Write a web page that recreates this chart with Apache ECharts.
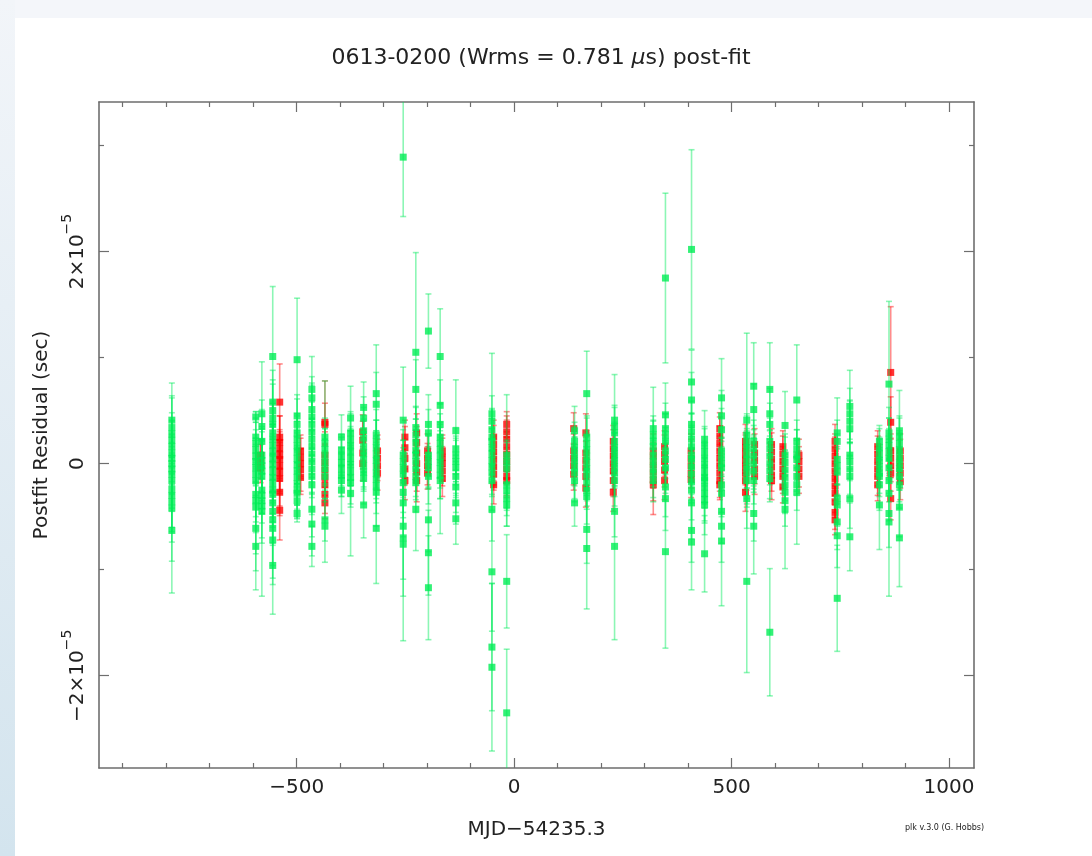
<!DOCTYPE html>
<html><head><meta charset="utf-8">
<script src="https://cdn.jsdelivr.net/npm/echarts@6/dist/echarts.min.js"></script>
<style>html,body{margin:0;padding:0;background:#fff}#c{width:1092px;height:856px}</style>
</head><body><div id="c"></div>
<script>
// Residuals in microseconds, grouped by observing epoch (MJD-54235.3)
const greenEpochs = [-787,-594,-580,-555,-499,-465,-435,-397,-376,-346,-317,-255,-226,-197,-170,-134,-51,-17,139,167,231,320,348,408,438,477,535,551,588,623,650,743,772,840,862,886];
const greenRes = [
 [4.1,3.4,2.8,2.2,1.6,1.0,0.5,0.0,-0.5,-1.0,-1.6,-2.4,-3.0,-3.6,-4.2,-6.3],
 [4.4,2.5,1.9,1.3,0.7,0.2,-0.4,-1.0,-1.6,-2.9,-3.5,-4.1,-6.1,-7.8],
 [4.7,3.5,2.1,0.8,0.3,-0.2,-0.7,-1.2,-2.5,-3.0,-3.5,-4.0,-4.5],
 [10.1,5.8,5.0,4.3,3.7,2.9,2.3,1.7,1.1,0.5,-0.1,-0.7,-1.3,-1.9,-2.5,-2.9,-3.7,-4.5,-5.3,-6.1,-7.2,-9.6],
 [9.8,4.5,3.7,2.9,2.3,1.7,1.1,0.5,-0.1,-0.7,-1.3,-1.9,-2.5,-2.8,-3.5,-4.7],
 [7.0,6.2,5.1,4.4,3.7,3.0,2.3,1.6,0.9,0.2,-0.5,-1.2,-2.0,-4.3,-5.7,-7.8],
 [2.5,1.9,1.3,0.7,0.1,-0.5,-1.2,-5.3,-5.9],
 [2.5,1.3,0.7,0.1,-0.5,-1.1,-1.6,-2.5],
 [4.3,2.9,2.3,1.7,1.1,0.5,-0.1,-0.7,-1.3,-1.8,-2.8],
 [5.3,4.3,3.1,2.4,1.6,1.0,0.4,-0.2,-0.8,-1.4,-3.9],
 [6.6,5.6,2.7,2.1,1.5,0.9,0.3,-0.3,-0.9,-1.5,-2.1,-2.7,-6.1],
 [28.9,4.1,0.8,0.2,-0.4,-1.0,-1.8,-2.7,-3.7,-5.9,-7.0,-7.6],
 [10.5,7.0,3.4,2.7,2.0,1.3,0.8,0.2,-0.5,-1.2,-1.8,-4.3],
 [12.5,3.7,2.9,0.8,0.2,-0.4,-1.2,-5.3,-8.4,-11.7],
 [10.1,5.5,3.7,2.5,1.9,1.3,0.7,0.1,-0.5,-1.1,-1.6],
 [3.1,1.4,0.8,0.2,-0.4,-1.2,-2.2,-3.7,-5.2],
 [4.7,4.0,3.2,2.5,2.1,1.5,0.9,0.3,-0.3,-0.9,-1.6,-4.3,-10.2,-17.3,-19.2],
 [0.8,0.2,-0.4,-2.0,-2.6,-3.3,-3.9,-11.1,-23.5],
 [3.1,2.1,1.5,0.9,0.3,-0.3,-0.9,-1.6,-3.7],
 [6.6,2.5,1.9,1.3,0.7,0.1,-0.5,-1.1,-1.8,-2.5,-3.1,-6.2,-8.0],
 [4.1,3.5,2.9,2.1,1.5,0.9,0.3,-0.3,-0.9,-1.6,-4.5,-7.8],
 [3.3,2.7,2.1,1.6,0.8,0.2,-0.4,-1.0,-1.6],
 [17.5,4.6,3.3,2.7,2.1,1.2,0.4,-0.4,-2.2,-3.3,-8.3],
 [20.2,7.7,6.0,3.7,3.0,2.3,1.6,0.8,0.4,-0.3,-1.0,-1.7,-2.5,-3.7,-6.3,-7.4],
 [2.3,1.7,1.1,0.5,-0.1,-0.7,-1.3,-1.6,-2.2,-2.8,-3.4,-3.9,-8.5],
 [6.2,4.5,3.2,1.2,0.6,0.0,-0.4,-2.0,-2.8,-4.5,-5.9,-7.3],
 [4.1,2.7,2.1,1.5,0.9,0.3,-0.3,-0.9,-1.6,-3.3,-11.1],
 [7.3,5.1,2.1,1.4,0.7,0.0,-0.7,-1.6,-4.7,-5.9],
 [7.0,4.7,3.7,2.1,1.4,0.7,0.0,-0.7,-1.4,-15.9],
 [3.6,0.8,0.1,-0.6,-1.3,-2.0,-2.7,-3.5,-4.3],
 [6.0,2.1,1.4,0.8,0.4,-0.4,-1.2,-2.0,-2.7],
 [2.9,2.1,0.4,-0.2,-0.8,-3.3,-3.9,-5.5,-6.8,-12.7],
 [5.4,4.7,4.0,3.3,0.8,0.2,-0.5,-1.2,-3.3,-6.9],
 [2.1,1.5,0.9,0.3,-0.3,-0.9,-1.2,-2.0,-3.9],
 [7.5,2.9,2.3,1.7,1.1,0.5,-0.4,-1.6,-2.8,-4.7,-5.5],
 [3.1,2.5,1.9,1.3,0.7,0.1,-0.5,-1.2,-2.0,-4.1,-7.0]
];
const greenErr = [
 [3.5,2.8,2.0,4.2,2.5,3.0,2.2,2.8,2.4,3.5,2.6,4.0,3.0,5.6,3.2,5.9],
 [0.5,2.4,2.0,3.0,2.5,2.2,2.8,2.0,3.4,2.6,3.0,4.4,4.0,4.1],
 [4.9,2.5,3.0,2.2,3.0,2.4,2.8,3.5,2.2,2.6,4.0,3.0,8.0],
 [6.6,3.0,2.5,3.6,2.2,2.8,3.4,2.0,2.6,3.2,2.4,3.0,2.2,2.8,3.5,2.6,4.0,3.0,5.5,3.5,4.2,4.6],
 [5.8,2.0,2.4,1.8,2.2,1.6,2.0,2.4,1.8,2.2,2.6,2.0,1.8,2.4,1.6,0.8],
 [3.1,2.0,2.5,3.0,2.2,2.8,2.0,2.6,2.2,3.0,2.4,2.0,2.8,2.6,3.0,1.9],
 [5.3,2.4,2.0,2.6,2.2,2.8,2.4,2.0,3.4],
 [2.1,1.5,1.8,1.4,1.6,2.0,1.5,2.2],
 [3.0,2.0,2.4,1.8,2.2,2.6,2.0,2.4,2.8,2.0,5.9],
 [2.4,2.0,2.2,1.8,2.4,2.0,2.6,2.2,1.8,2.4,3.1],
 [4.6,3.0,2.4,2.0,2.6,2.2,2.8,2.0,2.4,2.2,2.6,3.2,5.2],
 [5.6,5.0,2.4,2.0,2.6,2.2,2.8,2.4,3.2,5.0,5.5,9.1],
 [9.4,2.8,2.0,2.6,2.2,1.8,2.4,2.0,2.6,2.2,2.8,3.9],
 [3.5,2.8,2.2,2.0,2.4,2.0,2.6,3.0,4.0,4.9],
 [4.5,2.4,2.0,2.2,1.8,2.6,2.0,2.4,2.8,2.2,5.0],
 [4.8,2.0,1.8,2.2,2.6,2.0,2.4,2.0,2.4],
 [5.7,2.4,2.0,2.6,2.2,1.8,2.4,2.0,2.6,2.2,2.8,3.0,5.6,6.0,7.9],
 [5.7,2.0,2.4,2.2,1.8,2.6,2.0,4.4,6.0],
 [2.3,1.8,2.0,1.6,2.2,1.8,2.4,2.0,2.2],
 [4.0,2.0,2.4,1.8,2.2,2.6,2.0,2.4,2.2,1.8,2.6,3.2,5.7],
 [4.3,2.0,2.4,1.8,2.2,2.0,2.6,1.8,2.2,2.4,2.4,8.8],
 [3.9,1.8,2.0,2.4,1.6,2.0,1.8,2.2,2.0],
 [8.0,3.0,2.4,2.0,2.6,2.2,1.8,2.4,2.8,3.0,9.1],
 [9.4,3.0,2.6,2.2,1.8,2.4,2.0,2.6,2.2,1.8,2.4,2.0,2.8,3.4,3.0,4.5],
 [2.7,1.8,2.2,1.6,2.0,2.4,1.8,2.2,2.0,2.6,2.2,2.8,3.6],
 [3.7,2.4,2.0,2.2,1.8,2.4,2.0,2.6,2.2,3.0,3.4,6.1],
 [8.2,2.0,2.4,1.8,2.2,2.6,2.0,2.4,2.2,2.8,8.6],
 [4.1,2.4,2.0,2.2,1.8,2.4,2.0,2.2,2.6,4.5],
 [4.4,2.4,2.0,2.2,1.8,2.4,2.0,2.6,2.2,6.0],
 [3.2,2.0,2.4,1.8,2.2,2.6,2.0,2.4,5.6],
 [5.2,2.0,1.8,2.4,2.0,2.2,1.8,2.4,4.9],
 [3.3,2.0,2.4,1.8,2.2,2.4,2.0,2.6,3.0,5.0],
 [3.4,2.4,2.0,2.6,2.2,1.8,2.4,2.0,2.8,3.2],
 [1.5,1.8,1.6,2.0,1.8,2.2,1.6,2.4,4.2],
 [7.8,2.4,2.0,2.6,2.2,1.8,2.4,2.0,2.6,3.2,7.0],
 [3.8,2.0,2.4,1.8,2.2,2.6,2.0,2.4,2.2,2.8,4.6]
];
const redEpochs = [-583,-539,-491,-435,-348,-314,-251,-224,-199,-165,-47,-17,137,165,228,320,346,407,473,532,553,592,618,655,738,836,866,888];
const redRes = [
 [0.8,0.2,-0.4],
 [5.8,2.5,2.0,1.4,0.8,0.4,-0.2,-0.8,-1.4,-2.7,-4.4],
 [1.2,0.6,0.0,-0.6,-1.3],
 [3.9,3.7,0.8,0.1,-0.6,-1.3,-2.0,-2.9,-3.7],
 [3.0,2.2,1.0,0.0],
 [1.2,0.5,-0.2,-0.9],
 [2.5,1.5,0.5,-0.5,-1.6],
 [2.9,2.0,1.0,0.0,-0.8,-1.6],
 [1.2,0.5,-0.2,-0.9],
 [1.2,0.6,0.0,-0.7,-1.4],
 [2.5,1.8,1.1,0.4,-0.3,-1.0,-2.0],
 [3.7,3.0,2.3,1.6,0.9,0.2,-0.5,-1.2,-1.6],
 [3.3,1.2,0.5,-0.2,-1.0],
 [2.9,1.0,0.3,-0.4,-1.2,-2.3],
 [2.1,1.4,0.7,0.0,-0.7,-1.6,-2.7],
 [1.2,0.6,-0.1,-0.8,-1.5,-2.0],
 [1.6,0.9,0.2,-0.6,-1.6],
 [1.2,0.5,-0.2,-0.9,-1.5],
 [3.3,2.6,1.9,1.2,0.5,-0.2,-0.9,-1.6,-2.0],
 [2.1,1.5,0.9,0.3,-0.3,-0.9,-1.6,-2.7],
 [1.8,1.0,0.3,-0.5,-1.2],
 [1.8,1.1,0.4,-0.3,-1.1,-1.6],
 [1.6,0.9,0.2,-0.5,-1.2,-2.2],
 [0.8,0.2,-0.5,-1.2],
 [2.1,1.4,0.7,0.0,-0.7,-1.4,-2.1,-2.8,-3.6,-4.6,-5.3],
 [1.6,0.9,0.2,-0.5,-1.2,-2.0],
 [8.6,3.9,1.2,0.5,-0.2,-0.9,-3.3],
 [1.2,0.5,-0.2,-0.9,-1.7]
];
const redErr = [
 [1.5,1.6,1.4],
 [3.6,2.0,2.5,1.8,2.2,1.6,2.4,2.0,2.6,2.2,2.8],
 [1.5,1.8,1.4,2.0,1.6],
 [3.9,2.0,2.2,1.8,2.4,2.0,1.6,1.8,1.5],
 [1.6,1.8,1.5,1.6],
 [1.5,1.8,1.4,1.6],
 [1.6,2.0,1.8,1.5,1.8],
 [1.8,1.5,2.0,1.6,1.8,2.0],
 [1.6,1.4,1.8,1.5],
 [1.5,1.8,1.6,1.4,1.7],
 [1.6,1.8,1.5,2.0,1.7,1.5,1.8],
 [1.2,1.5,1.8,1.4,1.6,2.0,1.5,1.8,1.6],
 [1.5,1.6,1.4,1.8,1.5],
 [1.8,1.5,1.8,1.6,1.4,1.8],
 [1.5,1.8,1.6,1.4,1.7,1.5,1.8],
 [1.6,1.4,1.8,1.5,2.0,2.8],
 [1.5,1.8,1.4,1.6,1.8],
 [1.6,1.8,1.5,1.4,1.7],
 [1.5,1.8,1.6,1.4,1.8,1.5,1.7,1.6,1.4],
 [1.6,1.4,1.8,1.5,1.7,1.6,1.4,1.8],
 [1.5,1.8,1.6,1.4,1.7],
 [1.5,1.8,1.4,1.6,1.5,1.8],
 [1.5,1.7,1.4,1.8,1.6,1.5],
 [1.5,1.4,1.7,1.6],
 [1.6,1.4,1.8,1.5,1.7,1.6,1.4,1.8,1.5,1.6,1.4],
 [1.5,1.7,1.4,1.6,1.8,1.5],
 [6.2,2.4,1.6,1.8,1.5,1.7,2.0],
 [1.6,1.8,1.5,1.4,1.7]
];
const xMajorTicks = [-500, 0, 500, 1000];
const xMinorTicks = [-900,-800,-700,-600,-400,-300,-200,-100,100,200,300,400,600,700,800,900];
const yMajorTicks = [-2e-5, 0, 2e-5];
const yMinorTicks = [-1e-5, 1e-5, 3e-5];
const X_MIN = -954.5, X_MAX = 1057.5, Y_MIN = -2.87e-5, Y_MAX = 3.41e-5;

function build(epochs, res, err) {
  const out = [];
  epochs.forEach((t, i) => res[i].forEach((r, j) => out.push([t, r * 1e-6, err[i][j] * 1e-6])));
  return out;
}
const greenData = build(greenEpochs, greenRes, greenErr);
const redData = build(redEpochs, redRes, redErr);

const FONT = 'DejaVu Sans';
const TXT = '#222';
const FRAME = '#6e6e6e';

function errRender(color) {
  return function (params, api) {
    const x = api.value(0), y = api.value(1), e = api.value(2);
    const hi = Math.min(y + e, Y_MAX), lo = Math.max(y - e, Y_MIN);
    const p1 = api.coord([x, hi]), p2 = api.coord([x, lo]);
    const st = { stroke: color, lineWidth: 1.6 };
    const ch = [{ type: 'line', shape: { x1: p1[0], y1: p1[1], x2: p2[0], y2: p2[1] }, style: st }];
    if (y + e <= Y_MAX) ch.push({ type: 'line', shape: { x1: p1[0] - 3, y1: p1[1], x2: p1[0] + 3, y2: p1[1] }, style: st });
    if (y - e >= Y_MIN) ch.push({ type: 'line', shape: { x1: p2[0] - 3, y1: p2[1], x2: p2[0] + 3, y2: p2[1] }, style: st });
    return { type: 'group', children: ch };
  };
}

function xAxisDef(pos, major, showLine, showLabel) {
  return {
    type: 'value', position: pos, min: X_MIN, max: X_MAX, gridIndex: 0,
    axisLine: { show: showLine, onZero: false, lineStyle: { color: FRAME, width: 1.6 } },
    axisTick: { show: true, inside: true, length: major ? 10 : 5, customValues: major ? xMajorTicks : xMinorTicks, lineStyle: { color: FRAME, width: 1.2 } },
    axisLabel: { show: showLabel, customValues: xMajorTicks, margin: 10, fontFamily: FONT, fontSize: 20, color: TXT,
      formatter: v => String(Math.round(v)).replace('-', '\u2212') },
    splitLine: { show: false },
    name: showLabel ? 'MJD\u221254235.3' : '', nameLocation: 'middle', nameGap: 52,
    nameTextStyle: { fontFamily: FONT, fontSize: 20, color: TXT }
  };
}
function yAxisDef(pos, major, showLine, showLabel) {
  return {
    type: 'value', position: pos, min: Y_MIN, max: Y_MAX, gridIndex: 0,
    axisLine: { show: showLine, onZero: false, lineStyle: { color: FRAME, width: 1.6 } },
    axisTick: { show: true, inside: true, length: major ? 10 : 5, customValues: major ? yMajorTicks : yMinorTicks, lineStyle: { color: FRAME, width: 1.2 } },
    axisLabel: { show: showLabel, customValues: yMajorTicks, rotate: 90, margin: 11, fontFamily: FONT, color: TXT,
      formatter: v => {
        const k = Math.round(v * 1e5);
        if (k === 0) return '{a|0}';
        return '{a|' + (k < 0 ? '\u2212' : '') + Math.abs(k) + '\u00d710}{s|\u22125}';
      },
      rich: { a: { fontFamily: FONT, fontSize: 20, color: TXT, lineHeight: 28, verticalAlign: 'bottom' },
              s: { fontFamily: FONT, fontSize: 14, color: TXT, lineHeight: 28, verticalAlign: 'top' } } },
    splitLine: { show: false },
    name: showLabel ? 'Postfit Residual (sec)' : '', nameLocation: 'middle', nameGap: 44, nameRotate: 90,
    nameTextStyle: { fontFamily: FONT, fontSize: 20, color: TXT }
  };
}

const chart = echarts.init(document.getElementById('c'), null, { renderer: 'canvas' });
chart.setOption({
  backgroundColor: '#ffffff',
  animation: false,
  graphic: [
    { type: 'rect', shape: { x: 0, y: 0, width: 1092, height: 18 }, style: { fill: '#f4f6fa' }, silent: true },
    { type: 'rect', shape: { x: 0, y: 0, width: 15, height: 856 }, silent: true,
      style: { fill: new echarts.graphic.LinearGradient(0, 0, 0, 1, [{ offset: 0, color: '#f2f5f9' }, { offset: 1, color: '#d3e4ee' }]) } },
    { type: 'text', left: 905, top: 824, silent: true,
      style: { text: 'plk v.3.0 (G. Hobbs)', fontFamily: FONT, fontSize: 8, fill: TXT } }
  ],
  title: {
    text: '{n|0613-0200 (Wrms = 0.781 }{i|\u03bc}{n|s) post-fit}',
    left: 536, top: 42, textAlign: 'center',
    textStyle: { fontWeight: 'normal', rich: { n: { fontFamily: FONT, fontSize: 22, fontWeight: 'normal', color: TXT }, i: { fontFamily: FONT, fontSize: 22, fontWeight: 'normal', fontStyle: 'italic', color: TXT } } }
  },
  grid: { left: 99, top: 102, width: 875, height: 666, containLabel: false },
  xAxis: [xAxisDef('bottom', true, true, true), xAxisDef('bottom', false, false, false), xAxisDef('top', true, true, false), xAxisDef('top', false, false, false)],
  yAxis: [yAxisDef('left', true, true, true), yAxisDef('left', false, false, false), yAxisDef('right', true, true, false), yAxisDef('right', false, false, false)],
  series: [
    { type: 'custom', name: 'red-err', data: redData, renderItem: errRender('rgba(255,0,0,0.45)'), xAxisIndex: 0, yAxisIndex: 0, z: 2, encode: { x: 0, y: [1, 2] } },
    { type: 'scatter', name: 'red', data: redData.map(d => [d[0], d[1]]), symbol: 'rect', symbolSize: 7, itemStyle: { color: '#ff0000' }, xAxisIndex: 0, yAxisIndex: 0, z: 3 },
    { type: 'custom', name: 'green-err', data: greenData, renderItem: errRender('rgba(0,235,90,0.45)'), xAxisIndex: 0, yAxisIndex: 0, z: 4, encode: { x: 0, y: [1, 2] } },
    { type: 'scatter', name: 'green', data: greenData.map(d => [d[0], d[1]]), symbol: 'rect', symbolSize: 7, itemStyle: { color: '#00ee55' }, xAxisIndex: 0, yAxisIndex: 0, z: 5 }
  ]
});
</script></body></html>
